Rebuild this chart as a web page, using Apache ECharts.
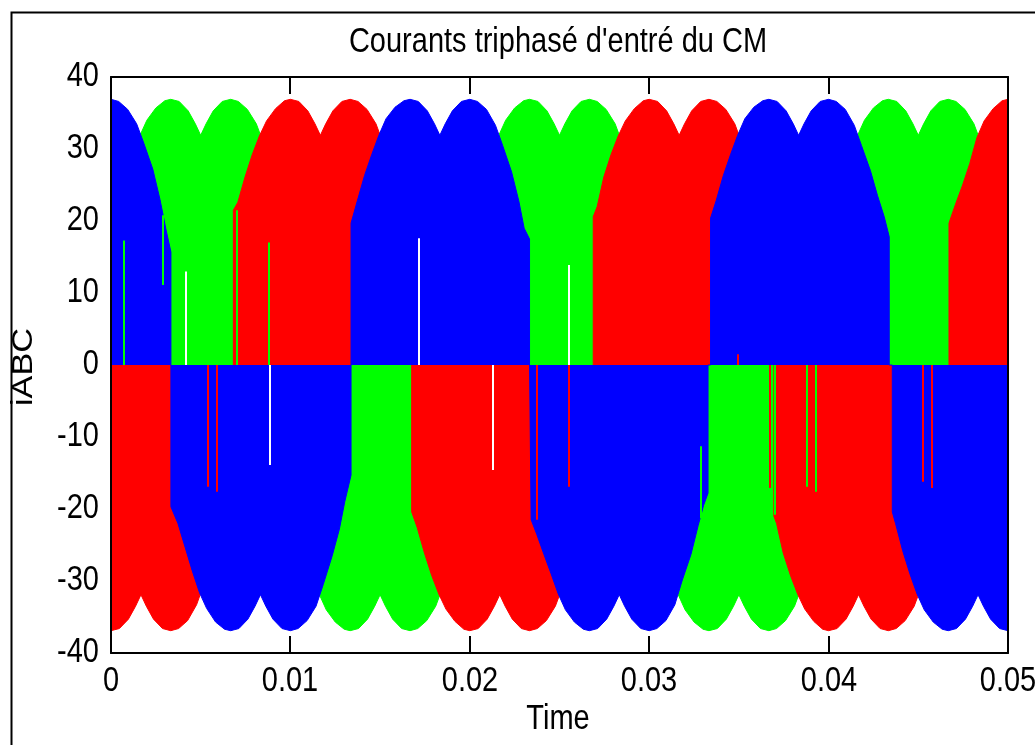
<!DOCTYPE html>
<html>
<head>
<meta charset="utf-8">
<script src="https://cdn.jsdelivr.net/npm/echarts@6/dist/echarts.min.js"></script>
<style>
html,body{margin:0;padding:0;background:#fff;}
#chart{width:1035px;height:745px;}
</style>
</head>
<body>
<div id="chart"></div>
<script>
// ---- data (time in ms, current in A) ----
const chartTitle = "Courants triphasé d'entré du CM";
const xLabel = "Time";
const yLabel = "iABC";
const xTicks = [0, 0.01, 0.02, 0.03, 0.04, 0.05];
const xTickLabels = ["0", "0.01", "0.02", "0.03", "0.04", "0.05"];
const yTicks = [-40, -30, -20, -10, 0, 10, 20, 30, 40];
const yTickLabels = ["-40", "-30", "-20", "-10", "0", "10", "20", "30", "40"];

// envelope of the chopped (PWM) current of each phase, signed
const greenEnv = [
  [0,0],[0,19.2],[0.4,22.5],[0.8,26.0],[1.2,29.0],[1.6,31.8],[2.0,34.0],[2.5,35.7],[3.0,36.7],[3.33,36.9],[3.8,36.6],[4.3,35.3],[4.7,33.5],[5.0,31.9],[5.3,33.5],[5.7,35.3],[6.2,36.6],[6.67,36.9],[7.1,36.6],[7.6,35.5],[8.1,33.5],[8.5,30.8],[9.0,27.2],[9.4,23.2],[9.7,19.5],[9.98,16.5],[9.98,0],
  [9.98,-20.0],[10.4,-22.5],[10.8,-26.0],[11.2,-29.0],[11.6,-31.8],[12.0,-34.0],[12.5,-35.7],[13.0,-36.7],[13.33,-36.9],[13.8,-36.6],[14.3,-35.3],[14.7,-33.5],[15.0,-31.9],[15.3,-33.5],[15.7,-35.3],[16.2,-36.6],[16.67,-36.9],[17.1,-36.6],[17.6,-35.5],[18.1,-33.5],[18.5,-30.8],[19.0,-27.2],[19.4,-23.2],[19.7,-19.5],[19.98,-16.5],[19.98,0],
  [19.98,20.0],[20.4,22.5],[20.8,26.0],[21.2,29.0],[21.6,31.8],[22.0,34.0],[22.5,35.7],[23.0,36.7],[23.33,36.9],[23.8,36.6],[24.3,35.3],[24.7,33.5],[25.0,31.9],[25.3,33.5],[25.7,35.3],[26.2,36.6],[26.67,36.9],[27.1,36.6],[27.6,35.5],[28.1,33.5],[28.5,30.8],[29.0,27.2],[29.4,23.2],[29.7,19.5],[29.98,16.5],[29.98,0],
  [29.98,-20.0],[30.4,-22.5],[30.8,-26.0],[31.2,-29.0],[31.6,-31.8],[32.0,-34.0],[32.5,-35.7],[33.0,-36.7],[33.33,-36.9],[33.8,-36.6],[34.3,-35.3],[34.7,-33.5],[35.0,-31.9],[35.3,-33.5],[35.7,-35.3],[36.2,-36.6],[36.67,-36.9],[37.1,-36.6],[37.6,-35.5],[38.1,-33.5],[38.5,-30.8],[39.0,-27.2],[39.4,-23.2],[39.7,-19.5],[39.98,-16.5],[39.98,0],
  [39.98,20.0],[40.4,22.5],[40.8,26.0],[41.2,29.0],[41.6,31.8],[42.0,34.0],[42.5,35.7],[43.0,36.7],[43.33,36.9],[43.8,36.6],[44.3,35.3],[44.7,33.5],[45.0,31.9],[45.3,33.5],[45.7,35.3],[46.2,36.6],[46.67,36.9],[47.1,36.6],[47.6,35.5],[48.1,33.5],[48.5,30.8],[49.0,27.2],[49.4,23.2],[49.7,19.5],[50.0,17.5]
];
const redEnv = [
  [0,-36.9],[0.47,-36.6],[0.97,-35.3],[1.37,-33.5],[1.67,-31.9],[1.97,-33.5],[2.37,-35.3],[2.87,-36.6],[3.33,-36.9],[3.77,-36.6],[4.27,-35.5],[4.77,-33.3],[5.17,-30.5],[5.67,-26.8],[6.07,-23.0],[6.4,-19.5],[6.82,-16.0],[6.82,0],
  [6.82,21.5],[7.07,22.6],[7.47,26.1],[7.87,29.2],[8.27,31.8],[8.67,33.9],[9.17,35.6],[9.67,36.7],[10.0,36.9],[10.47,36.6],[10.97,35.3],[11.37,33.5],[11.67,31.9],[11.97,33.5],[12.37,35.3],[12.87,36.6],[13.33,36.9],[13.77,36.6],[14.27,35.5],[14.77,33.5],[15.17,30.8],[15.67,27.2],[16.07,23.2],[16.4,19.5],[16.76,16.0],[16.76,0],
  [16.76,-20.4],[17.07,-22.6],[17.47,-26.1],[17.87,-29.2],[18.27,-31.8],[18.67,-33.9],[19.17,-35.6],[19.67,-36.7],[20.0,-36.9],[20.47,-36.6],[20.97,-35.3],[21.37,-33.5],[21.67,-31.9],[21.97,-33.5],[22.37,-35.3],[22.87,-36.6],[23.33,-36.9],[23.77,-36.6],[24.27,-35.5],[24.77,-33.5],[25.17,-30.8],[25.67,-27.2],[26.07,-23.2],[26.45,-19.5],[26.88,-16.0],[26.88,0],
  [26.88,20.6],[27.1,22.0],[27.47,26.1],[27.87,29.2],[28.27,31.8],[28.67,33.9],[29.17,35.6],[29.67,36.7],[30.0,36.9],[30.47,36.6],[30.97,35.3],[31.37,33.5],[31.67,31.9],[31.97,33.5],[32.37,35.3],[32.87,36.6],[33.33,36.9],[33.77,36.6],[34.27,35.5],[34.77,33.5],[35.17,30.8],[35.67,27.2],[36.07,23.2],[36.5,19.5],[36.95,16.0],[36.95,0],
  [36.95,-21.0],[37.1,-22.0],[37.47,-26.1],[37.87,-29.2],[38.27,-31.8],[38.67,-33.9],[39.17,-35.6],[39.67,-36.7],[40.0,-36.9],[40.47,-36.6],[40.97,-35.3],[41.37,-33.5],[41.67,-31.9],[41.97,-33.5],[42.37,-35.3],[42.87,-36.6],[43.33,-36.9],[43.77,-36.6],[44.27,-35.5],[44.77,-33.5],[45.17,-30.8],[45.67,-27.2],[46.07,-23.2],[46.4,-19.5],[46.71,-16.0],[46.71,0],
  [46.71,19.7],[47.07,22.3],[47.47,25.0],[47.87,28.0],[48.27,31.6],[48.67,33.9],[49.17,35.6],[49.67,36.7],[50.0,36.9]
];
const blueEnv = [
  [0,36.9],[0.43,36.6],[0.93,35.5],[1.43,33.5],[1.83,30.8],[2.33,27.2],[2.73,23.0],[3.05,19.0],[3.34,15.7],[3.34,0],
  [3.34,-19.7],[3.73,-22.0],[4.13,-25.3],[4.53,-28.6],[4.93,-31.6],[5.33,-33.8],[5.83,-35.7],[6.33,-36.7],[6.67,-36.9],[7.13,-36.6],[7.63,-35.3],[8.03,-33.5],[8.33,-31.9],[8.63,-33.5],[9.03,-35.3],[9.53,-36.6],[10.0,-36.9],[10.43,-36.6],[10.93,-35.5],[11.43,-33.5],[11.83,-30.5],[12.33,-26.5],[12.73,-22.8],[13.03,-19.0],[13.38,-15.3],[13.38,0],
  [13.38,19.7],[13.73,22.8],[14.13,26.3],[14.53,29.2],[14.93,31.9],[15.33,34.2],[15.83,35.8],[16.33,36.7],[16.67,36.9],[17.13,36.6],[17.63,35.3],[18.03,33.5],[18.33,31.9],[18.63,33.5],[19.03,35.3],[19.53,36.6],[20.0,36.9],[20.43,36.6],[20.93,35.5],[21.43,33.3],[21.83,30.5],[22.33,26.8],[22.73,22.8],[23.03,19.0],[23.33,17.5],[23.33,0],
  [23.42,0],[23.42,-21.5],[23.73,-23.5],[24.13,-26.3],[24.53,-29.0],[24.93,-31.8],[25.33,-34.0],[25.83,-35.7],[26.33,-36.7],[26.67,-36.9],[27.13,-36.6],[27.63,-35.3],[28.03,-33.5],[28.33,-31.9],[28.63,-33.5],[29.03,-35.3],[29.53,-36.6],[30.0,-36.9],[30.43,-36.6],[30.93,-35.5],[31.43,-33.3],[31.83,-30.0],[32.33,-26.3],[32.73,-22.3],[33.03,-19.5],[33.28,-17.8],[33.28,0],
  [33.42,0],[33.42,20.4],[33.73,22.8],[34.13,26.3],[34.53,29.2],[34.93,31.9],[35.33,34.2],[35.83,35.8],[36.33,36.7],[36.67,36.9],[37.13,36.6],[37.63,35.3],[38.03,33.5],[38.33,31.9],[38.63,33.5],[39.03,35.3],[39.53,36.6],[40.0,36.9],[40.43,36.6],[40.93,35.5],[41.43,33.3],[41.83,30.5],[42.33,27.0],[42.73,23.5],[43.1,20.6],[43.38,17.8],[43.38,0],
  [43.55,0],[43.55,-20.4],[43.73,-22.0],[44.13,-25.8],[44.53,-29.0],[44.93,-31.8],[45.33,-34.0],[45.83,-35.7],[46.33,-36.7],[46.67,-36.9],[47.13,-36.6],[47.63,-35.3],[48.03,-33.5],[48.33,-31.9],[48.63,-33.5],[49.03,-35.3],[49.53,-36.6],[50.0,-36.9]
];
// isolated switching spikes: [time ms, from, to]
const spikesWhite = [[4.16,0,13.0],[8.86,0,-13.9],[17.17,0,17.6],[21.31,0,-14.6],[25.53,0,13.9]];
const spikesGreen = [[0.72,0,17.3],[2.88,11.1,20.8],[7.04,0,21.5],[8.82,0,17.0],[32.89,-11.3,-21.3],[37.0,0,-20.8],[38.77,0,-16.9],[39.27,0,-17.6]];
const spikesRed = [[5.43,0,-16.9],[5.93,0,-17.6],[23.74,0,-21.5],[25.53,0,-16.9],[34.95,0,1.5],[36.73,0,-17.1],[45.24,0,-16.2],[45.74,0,-17.1]];

// ---- build chart ----
const toSec = arr => arr.map(p => [p[0] / 1000, p[1]]);
const FONT = "'Liberation Sans',Arial,Helvetica,sans-serif";
const STRETCH = 1.18;   // the reference figure is stretched vertically
const TICK_LEN = 17;

function envSeries(name, data, color, z) {
  return {
    name, type: 'line', z, data: toSec(data), symbol: 'none', showSymbol: false,
    lineStyle: { color, width: 1 }, itemStyle: { color },
    areaStyle: { color, opacity: 1 }, silent: true
  };
}
function spikeSeries(name, data, color) {
  return {
    name, type: 'custom', z: 6, silent: true,
    data: data.map(s => [s[0] / 1000, s[1], s[2]]),
    encode: { x: 0, y: [1, 2] },
    renderItem: (params, api) => {
      const a = api.coord([api.value(0), api.value(1)]);
      const b = api.coord([api.value(0), api.value(2)]);
      const x = Math.round(a[0]);
      return { type: 'line', shape: { x1: x, y1: a[1], x2: x, y2: b[1] }, style: { stroke: color, lineWidth: 2 } };
    }
  };
}

const chart = echarts.init(document.getElementById('chart'), null, { renderer: 'canvas' });
function axisStyle() {
  return {
    axisLine: { show: true, onZero: false, lineStyle: { color: '#000', width: 2 } },
    axisTick: { show: false },
    axisLabel: { show: false },
    splitLine: { show: false },
    z: 8
  };
}
chart.setOption({
  animation: false,
  backgroundColor: '#fff',
  grid: { left: 111, top: 77, width: 897, height: 576, containLabel: false },
  xAxis: [
    Object.assign({ type: 'value', min: xTicks[0], max: xTicks[xTicks.length - 1], interval: 0.01, position: 'bottom' }, axisStyle()),
    Object.assign({ type: 'value', min: 0, max: 0.05, interval: 0.01, position: 'top' }, axisStyle())
  ],
  yAxis: [
    Object.assign({ type: 'value', min: yTicks[0], max: yTicks[yTicks.length - 1], interval: 10, position: 'left' }, axisStyle()),
    Object.assign({ type: 'value', min: -40, max: 40, interval: 10, position: 'right' }, axisStyle())
  ],
  series: [
    envSeries('iA', greenEnv, '#00ff00', 2),
    envSeries('iB', redEnv, '#ff0000', 3),
    envSeries('iC', blueEnv, '#0000ff', 4),
    spikeSeries('sw', spikesWhite, '#ffffff'),
    spikeSeries('sg', spikesGreen, '#00ff00'),
    spikeSeries('sr', spikesRed, '#ff0000')
  ]
});

// texts (tick labels placed through the axes' own scales), stretched like the reference
function txt(text, x, y, align, size, extra) {
  return Object.assign({ type: 'text', x, y, scaleY: STRETCH, silent: true, z: 10,
    style: { text, fontFamily: FONT, fontSize: size, fill: '#000', align, verticalAlign: 'middle' } }, extra || {});
}
function seg(x1, y1, x2, y2, z) {
  return { type: 'line', silent: true, z, shape: { x1, y1, x2, y2 }, style: { stroke: '#000', lineWidth: 2 } };
}
const graphics = [
  { type: 'rect', left: 9, top: 10, shape: { x: 0, y: 0, width: 1100, height: 800 }, style: { fill: null, stroke: '#000', lineWidth: 2 }, silent: true, z: -10 }
];
const xAxisY = chart.convertToPixel({ yAxisIndex: 0 }, yTicks[0]);
const xAxisTopY = chart.convertToPixel({ yAxisIndex: 0 }, yTicks[yTicks.length - 1]);
xTicks.forEach((v, i) => {
  const px = Math.round(chart.convertToPixel({ xAxisIndex: 0 }, v));
  graphics.push(txt(xTickLabels[i], px, xAxisY + 29, 'center', 29));
  graphics.push(seg(px, xAxisY, px, xAxisY - TICK_LEN, 9));
  graphics.push(seg(px, xAxisTopY, px, xAxisTopY + TICK_LEN, 9));
});
const yAxisX = chart.convertToPixel({ xAxisIndex: 0 }, xTicks[0]);
const yAxisRightX = chart.convertToPixel({ xAxisIndex: 0 }, xTicks[xTicks.length - 1]);
yTicks.forEach((v, i) => {
  const py = chart.convertToPixel({ yAxisIndex: 0 }, v);
  graphics.push(txt(yTickLabels[i], yAxisX - 12, py, 'right', 29));
  graphics.push(seg(yAxisX, py, yAxisX + TICK_LEN, py, 1));
  graphics.push(seg(yAxisRightX, py, yAxisRightX - TICK_LEN, py, 1));
});
graphics.push(txt(chartTitle, 558, 43, 'center', 29));
graphics.push(txt(xLabel, 558, 720, 'center', 29));
graphics.push({ type: 'text', x: 24, y: 367, rotation: Math.PI / 2, scaleX: STRETCH, silent: true, z: 10,
  style: { text: yLabel, fontFamily: FONT, fontSize: 29, fill: '#000', align: 'center', verticalAlign: 'middle' } });
chart.setOption({ graphic: graphics });
</script>
</body>
</html>
